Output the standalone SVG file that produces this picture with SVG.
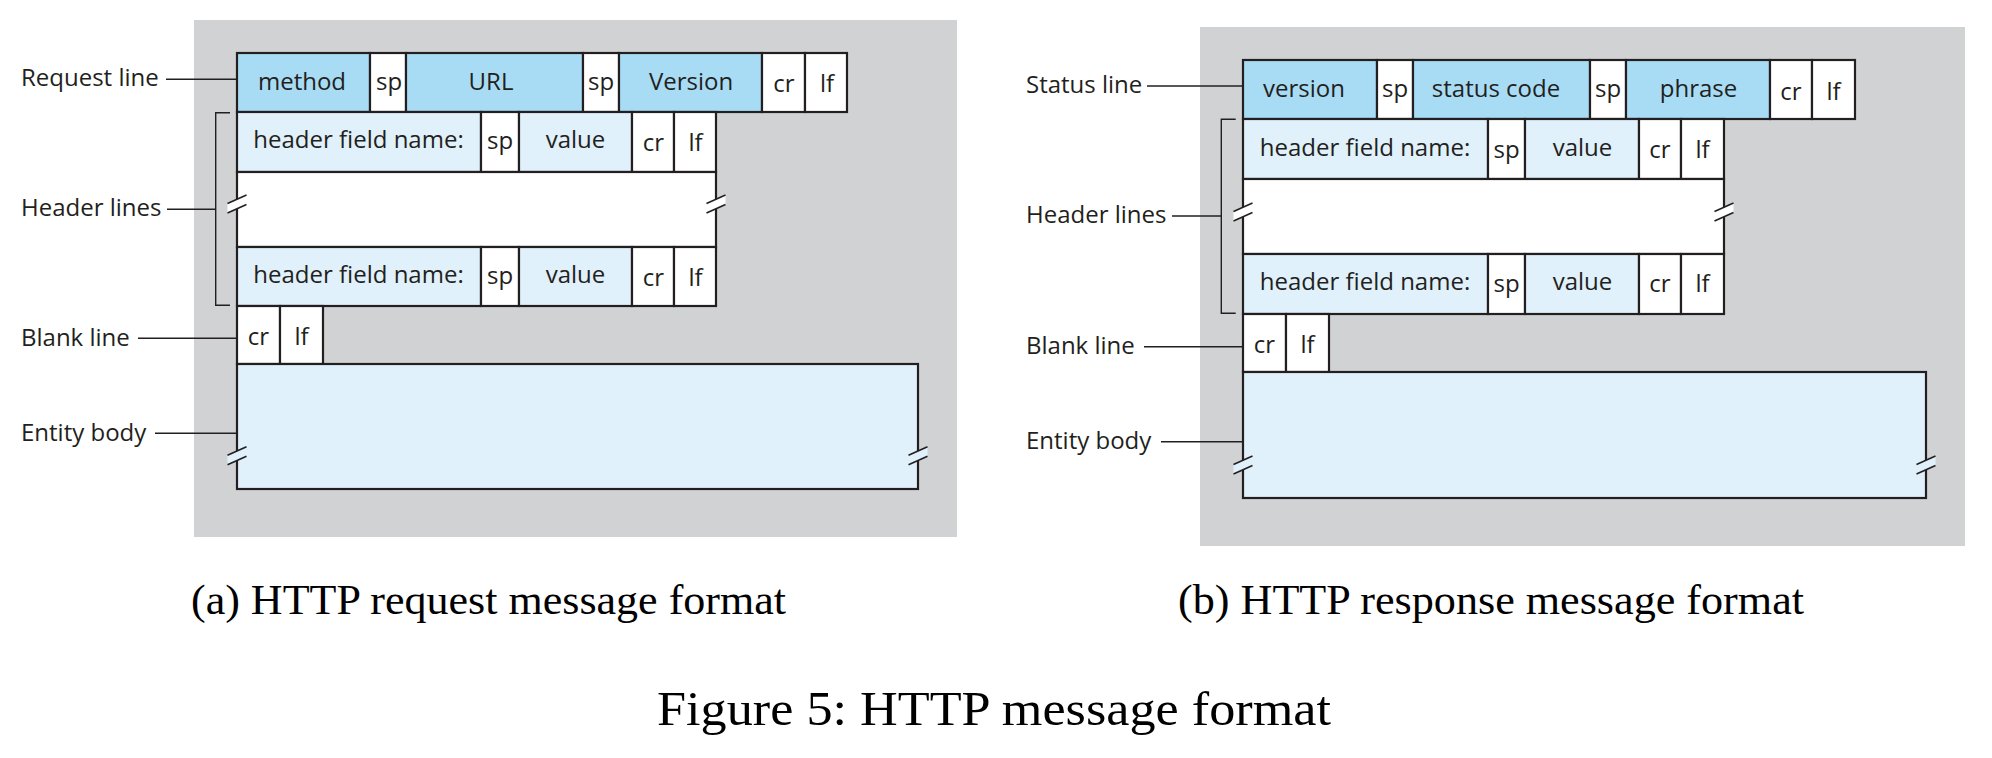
<svg xmlns="http://www.w3.org/2000/svg" xmlns:xlink="http://www.w3.org/1999/xlink" width="1992" height="758" viewBox="0 0 1992 758">
<style>
.bg{fill:#d1d2d4}
.dk{fill:#a8dcf5;stroke:#231f20;stroke-width:2.2}
.lt{fill:#e0f1fb;stroke:#231f20;stroke-width:2.2}
.wh{fill:#ffffff;stroke:#231f20;stroke-width:2.2}
.t{font-family:"Open Sans","Noto Sans",sans-serif;font-size:24px;fill:#231f20}
.c{text-anchor:middle}
.ln{fill:none;stroke:#231f20;stroke-width:1.4}
.sl{fill:none;stroke:#231f20;stroke-width:1.6}
.cap{font-family:"Liberation Serif","Times New Roman",serif;fill:#000}
</style>
<defs>
<g id="brk">
<polygon points="-9.5,0 9.5,-8.5 9.5,1 -9.5,9.5" stroke="none"/>
<line class="sl" x1="-9.5" y1="0" x2="9.5" y2="-8.5"/>
<line class="sl" x1="-9.5" y1="9.5" x2="9.5" y2="1"/>
</g>
</defs>
<rect class="bg" x="194" y="20" width="763" height="517"/>
<rect class="bg" x="1200" y="27" width="765" height="519"/>

<g id="request-line">
<rect class="dk" x="237" y="53" width="133" height="59"/>
<rect class="wh" x="370" y="53" width="36" height="59"/>
<rect class="dk" x="406" y="53" width="177" height="59"/>
<rect class="wh" x="583" y="53" width="36" height="59"/>
<rect class="dk" x="619" y="53" width="143" height="59"/>
<rect class="wh" x="762" y="53" width="43" height="59"/>
<rect class="wh" x="805" y="53" width="42" height="59"/>
<text class="t c" x="302" y="90">method</text>
<text class="t c" x="389" y="90">sp</text>
<text class="t c" x="491" y="90">URL</text>
<text class="t c" x="601" y="90">sp</text>
<text class="t c" x="691" y="90">Version</text>
<text class="t c" x="784" y="91.5">cr</text>
<text class="t c" x="827" y="91.5">lf</text>
</g>
<g id="request-header-1">
<rect class="lt" x="237" y="112" width="244" height="60"/>
<rect class="wh" x="481" y="112" width="38" height="60"/>
<rect class="lt" x="519" y="112" width="113" height="60"/>
<rect class="wh" x="632" y="112" width="42" height="60"/>
<rect class="wh" x="674" y="112" width="42" height="60"/>
<text class="t c" x="358.5" y="147.5">header field name:</text>
<text class="t c" x="500" y="148.5">sp</text>
<text class="t c" x="575.5" y="147.5">value</text>
<text class="t c" x="653.5" y="151">cr</text>
<text class="t c" x="695.5" y="151">lf</text>
</g>
<g id="request-header-gap">
<rect class="wh" x="237" y="172" width="479" height="75"/>
<use xlink:href="#brk" x="237" y="203.5" fill="#ffffff"/>
<use xlink:href="#brk" x="716" y="203.5" fill="#ffffff"/>
</g>
<g id="request-header-2">
<rect class="lt" x="237" y="247" width="244" height="59"/>
<rect class="wh" x="481" y="247" width="38" height="59"/>
<rect class="lt" x="519" y="247" width="113" height="59"/>
<rect class="wh" x="632" y="247" width="42" height="59"/>
<rect class="wh" x="674" y="247" width="42" height="59"/>
<text class="t c" x="358.5" y="283">header field name:</text>
<text class="t c" x="500" y="284">sp</text>
<text class="t c" x="575.5" y="283">value</text>
<text class="t c" x="653.5" y="286">cr</text>
<text class="t c" x="695.5" y="286">lf</text>
</g>
<g id="request-blank-line">
<rect class="wh" x="237" y="306" width="43" height="58"/>
<rect class="wh" x="280" y="306" width="43" height="58"/>
<text class="t c" x="258.5" y="345">cr</text>
<text class="t c" x="301.5" y="345">lf</text>
</g>
<g id="request-entity-body">
<rect class="lt" x="237" y="364" width="681" height="125"/>
<use xlink:href="#brk" x="237" y="455.2" fill="#e0f1fb"/>
<use xlink:href="#brk" x="918" y="455.2" fill="#e0f1fb"/>
</g>
<g id="request-labels">
<text class="t" x="21" y="86">Request line</text>
<text class="t" x="21" y="216">Header lines</text>
<text class="t" x="21" y="345.5">Blank line</text>
<text class="t" x="21" y="440.5">Entity body</text>
</g>

<g id="status-line">
<rect class="dk" x="1243" y="60" width="134" height="59"/>
<rect class="wh" x="1377" y="60" width="36" height="59"/>
<rect class="dk" x="1413" y="60" width="177" height="59"/>
<rect class="wh" x="1590" y="60" width="36" height="59"/>
<rect class="dk" x="1626" y="60" width="144" height="59"/>
<rect class="wh" x="1770" y="60" width="42" height="59"/>
<rect class="wh" x="1812" y="60" width="43" height="59"/>
<text class="t c" x="1304" y="97">version</text>
<text class="t c" x="1395" y="97">sp</text>
<text class="t c" x="1496" y="97">status code</text>
<text class="t c" x="1608" y="97">sp</text>
<text class="t c" x="1698.5" y="97">phrase</text>
<text class="t c" x="1791" y="100">cr</text>
<text class="t c" x="1833.5" y="100">lf</text>
</g>
<g id="response-header-1">
<rect class="lt" x="1243" y="119" width="245" height="60"/>
<rect class="wh" x="1488" y="119" width="37" height="60"/>
<rect class="lt" x="1525" y="119" width="114" height="60"/>
<rect class="wh" x="1639" y="119" width="42" height="60"/>
<rect class="wh" x="1681" y="119" width="43" height="60"/>
<text class="t c" x="1365" y="156">header field name:</text>
<text class="t c" x="1506.5" y="157.5">sp</text>
<text class="t c" x="1582.5" y="156">value</text>
<text class="t c" x="1660" y="157.5">cr</text>
<text class="t c" x="1702.5" y="157.5">lf</text>
</g>
<g id="response-header-gap">
<rect class="wh" x="1243" y="179" width="481" height="75"/>
<use xlink:href="#brk" x="1243" y="211.5" fill="#ffffff"/>
<use xlink:href="#brk" x="1724" y="211.5" fill="#ffffff"/>
</g>
<g id="response-header-2">
<rect class="lt" x="1243" y="254" width="245" height="60"/>
<rect class="wh" x="1488" y="254" width="37" height="60"/>
<rect class="lt" x="1525" y="254" width="114" height="60"/>
<rect class="wh" x="1639" y="254" width="42" height="60"/>
<rect class="wh" x="1681" y="254" width="43" height="60"/>
<text class="t c" x="1365" y="290">header field name:</text>
<text class="t c" x="1506.5" y="292">sp</text>
<text class="t c" x="1582.5" y="290">value</text>
<text class="t c" x="1660" y="292">cr</text>
<text class="t c" x="1702.5" y="292">lf</text>
</g>
<g id="response-blank-line">
<rect class="wh" x="1243" y="314" width="43" height="58"/>
<rect class="wh" x="1286" y="314" width="43" height="58"/>
<text class="t c" x="1264.5" y="353">cr</text>
<text class="t c" x="1307.5" y="353">lf</text>
</g>
<g id="response-entity-body">
<rect class="lt" x="1243" y="372" width="683" height="126"/>
<use xlink:href="#brk" x="1243" y="464.5" fill="#e0f1fb"/>
<use xlink:href="#brk" x="1926" y="464.5" fill="#e0f1fb"/>
</g>
<g id="response-labels">
<text class="t" x="1026" y="92.7">Status line</text>
<text class="t" x="1026" y="222.5">Header lines</text>
<text class="t" x="1026" y="353.5">Blank line</text>
<text class="t" x="1026" y="448.5">Entity body</text>
</g>

<g id="connectors">
<line class="ln" x1="166" y1="79.3" x2="237" y2="79.3"/>
<path class="ln" d="M230,112.7 H215.7 V305.3 H230"/>
<line class="ln" x1="167" y1="209.3" x2="215.7" y2="209.3"/>
<line class="ln" x1="138" y1="338.3" x2="237" y2="338.3"/>
<line class="ln" x1="155" y1="433.3" x2="237" y2="433.3"/>
<line class="ln" x1="1147" y1="86" x2="1243" y2="86"/>
<path class="ln" d="M1235.7,119.3 H1221.3 V313.3 H1235.7"/>
<line class="ln" x1="1172" y1="216" x2="1221.3" y2="216"/>
<line class="ln" x1="1144" y1="346.7" x2="1243" y2="346.7"/>
<line class="ln" x1="1161" y1="441.7" x2="1243" y2="441.7"/>
</g>

<g id="captions">
<text class="cap" x="191" y="614" font-size="42" textLength="595" lengthAdjust="spacingAndGlyphs">(a) HTTP request message format</text>
<text class="cap" x="1178" y="614" font-size="42" textLength="626" lengthAdjust="spacingAndGlyphs">(b) HTTP response message format</text>
<text class="cap" x="657" y="725" font-size="49" textLength="674" lengthAdjust="spacingAndGlyphs">Figure 5: HTTP message format</text>
</g>
</svg>
